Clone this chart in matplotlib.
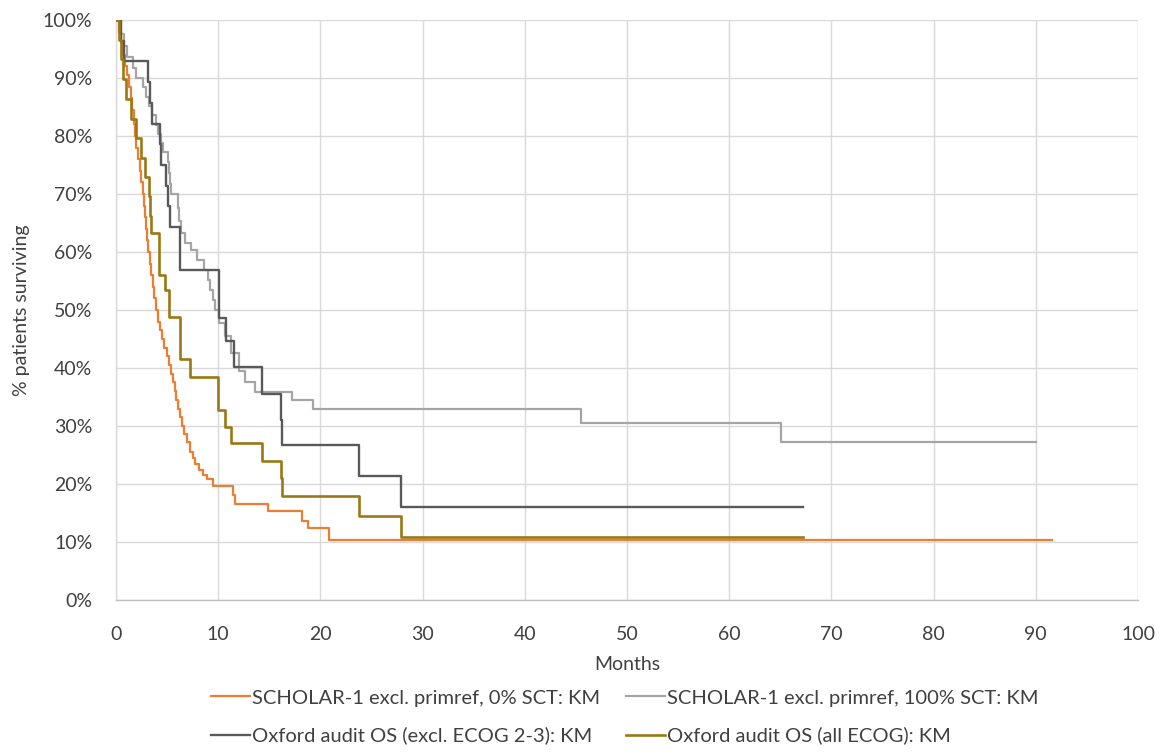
import matplotlib
matplotlib.use("Agg")
import matplotlib.pyplot as plt
from matplotlib.ticker import FuncFormatter

# ---- data (months, % surviving) ----
orange_t = [0, 0.3, 0.5, 0.7, 0.9, 1.1, 1.3, 1.45, 1.6, 1.75, 1.85, 2.0, 2.15, 2.3, 2.45,
            2.6, 2.75, 2.85, 2.95, 3.05, 3.15, 3.3, 3.45, 3.6, 3.75, 3.95, 4.1, 4.3, 4.5,
            4.7, 4.95, 5.2, 5.4, 5.6, 5.75, 5.9, 6.1, 6.3, 6.5, 6.7, 6.95, 7.2, 7.5, 7.75,
            8.1, 8.5, 8.9, 9.5, 11.4, 11.6, 14.9, 18.2, 18.8, 20.8, 91.6]
orange_v = [100, 98, 96, 94, 92, 90.5, 88.5, 86.5, 84.5, 82, 80, 78, 76, 74, 72,
            70, 68, 66, 64, 62, 60, 58, 56, 54, 52, 50, 48, 46.5, 45,
            43.5, 42, 40.5, 39, 37.5, 36, 34.5, 33, 31.5, 30, 28.7, 27.2, 25.6, 24.5, 23.5,
            22.4, 21.5, 20.9, 19.6, 18.1, 16.6, 15.3, 13.7, 12.5, 10.4, 10.4]

lgray_t = [0, 0.5, 0.8, 1.1, 1.7, 2.0, 2.6, 2.9, 3.2, 3.5, 3.9, 4.1, 4.4, 4.6, 5.1, 5.2,
           5.3, 5.4, 6.1, 6.2, 6.4, 6.8, 7.3, 7.9, 8.6, 9.0, 9.2, 9.45, 9.7, 10.1, 10.7,
           11.3, 12.0, 12.6, 13.6, 17.2, 19.3, 45.5, 65.1, 90.0]
lgray_v = [100, 97.5, 95.5, 93.7, 91.8, 90.0, 88.5, 86.8, 85.2, 83.6, 81.9, 80.3, 78.8,
           77.3, 75.5, 73.7, 71.8, 70.0, 67.6, 65.4, 63.3, 61.5, 60.3, 58.6, 56.9, 55.1,
           53.4, 51.7, 50.0, 47.7, 45.5, 42.5, 39.4, 37.6, 35.9, 34.5, 32.9, 30.6, 27.2, 27.2]

dgray_t = [0, 0.5, 0.8, 3.1, 3.3, 3.5, 4.3, 4.45, 4.9, 5.1, 5.25, 6.25, 6.3, 10.1, 10.8,
           11.5, 14.3, 16.1, 16.25, 23.8, 27.9, 67.2]
dgray_v = [100, 96.4, 92.9, 89.3, 85.7, 82.1, 78.6, 75.0, 71.4, 67.9, 64.3, 60.7, 56.9,
           48.6, 44.6, 40.2, 35.6, 31.0, 26.7, 21.3, 16.0, 16.0]

gold_t = [0, 0.3, 0.45, 0.7, 1.0, 1.5, 2.0, 2.4, 2.8, 3.2, 3.35, 3.45, 4.2, 4.8, 5.2,
          6.25, 7.2, 10.0, 10.7, 11.3, 14.3, 16.1, 16.2, 23.8, 27.9, 67.2]
gold_v = [100, 96.6, 93.2, 89.8, 86.4, 83.0, 79.6, 76.2, 73.0, 69.6, 66.2, 63.2, 56.0,
          53.5, 48.8, 41.5, 38.4, 32.8, 29.9, 27.0, 24.0, 21.0, 18.0, 14.5, 10.8, 10.8]

labels = ["SCHOLAR-1 excl. primref, 0% SCT: KM",
          "SCHOLAR-1 excl. primref, 100% SCT: KM",
          "Oxford audit OS (excl. ECOG 2-3): KM",
          "Oxford audit OS (all ECOG): KM"]
colors = ["#ED7D31", "#A5A5A5", "#595959", "#9A7813"]

x_ticks = list(range(0, 101, 10))
y_ticks = list(range(0, 101, 10))

plt.rcParams['font.family'] = ['Lato', 'DejaVu Sans']
fs = 14
fs_leg = 14.5
txt_col = "#404040"

fig = plt.figure(figsize=(11.64, 7.55), dpi=100)
ax = fig.add_axes([116/1164, 1 - 600/755, (1138-116)/1164, (600-20)/755])

series = [(orange_t, orange_v), (lgray_t, lgray_v), (dgray_t, dgray_v), (gold_t, gold_v)]
lws = [1.6, 1.6, 1.7, 1.9]
handles = []
for (t, v), c, lab, lw in zip(series, colors, labels, lws):
    h, = ax.step(t, v, where='post', color=c, lw=lw, label=lab, zorder=3)
    handles.append(h)

ax.set_xlim(0, 100)
ax.set_ylim(0, 100)
ax.set_xticks(x_ticks)
ax.set_yticks(y_ticks)
ax.yaxis.set_major_formatter(FuncFormatter(lambda v, p: f"{int(v)}%"))
ax.grid(True, color="#D9D9D9", lw=1.0, zorder=0)
ax.tick_params(length=0, labelsize=fs, colors=txt_col)
ax.tick_params(axis='y', pad=17)
ax.tick_params(axis='x', pad=19)
for s in ['top', 'right']:
    ax.spines[s].set_visible(False)
ax.spines['left'].set_color("#D9D9D9")
ax.spines['bottom'].set_color("#BFBFBF")
ax.spines['left'].set_linewidth(1.0)
ax.spines['bottom'].set_linewidth(1.0)

ax.set_xlabel("Months", fontsize=fs, color=txt_col, labelpad=9)
ax.set_ylabel("% patients surviving", fontsize=fs, color=txt_col, labelpad=9)

order = [0, 2, 1, 3]
leg = fig.legend([handles[i] for i in order], [labels[i] for i in order],
                 loc='center', bbox_to_anchor=(625/1164, 1 - 717/755), ncol=2,
                 frameon=False, fontsize=fs_leg, handlelength=1.9, handletextpad=0.12,
                 columnspacing=1.3, labelspacing=1.0, borderpad=0)
for txt in leg.get_texts():
    txt.set_color(txt_col)

fig.savefig("out.png", dpi=100)
